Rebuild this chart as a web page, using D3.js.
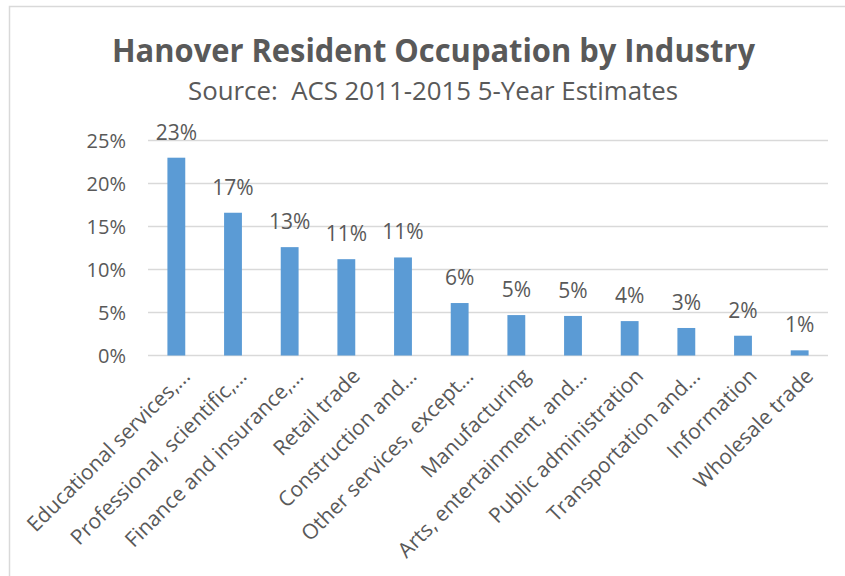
<!DOCTYPE html>
<html>
<head>
<meta charset="utf-8">
<script src="https://cdn.jsdelivr.net/npm/d3@7/dist/d3.min.js"></script>
<style>
  body { margin: 0; background: #fff; }
  svg text { font-family: "Open Sans", sans-serif; fill: #595959; }
</style>
</head>
<body>
<svg width="845" height="576"></svg>
<script>
// industries, in chart order
var categories = [
  "Educational services,...",
  "Professional, scientific,...",
  "Finance and insurance,...",
  "Retail trade",
  "Construction and...",
  "Other services, except...",
  "Manufacturing",
  "Arts, entertainment, and...",
  "Public administration",
  "Transportation and...",
  "Information",
  "Wholesale trade"
];
// share of employed residents (fraction)
var shares = [0.230, 0.166, 0.126, 0.112, 0.114, 0.061, 0.047, 0.046, 0.040, 0.032, 0.023, 0.006];
var yTicks = [0, 0.05, 0.10, 0.15, 0.20, 0.25];

var title = "Hanover Resident Occupation by Industry";
var subtitle = "Source:  ACS 2011-2015 5-Year Estimates";

var svg = d3.select("svg"),
    margin = {top: 140.5, right: 17, bottom: 220.5, left: 148},
    width = +svg.attr("width") - margin.left - margin.right,
    height = +svg.attr("height") - margin.top - margin.bottom;

// chart area border (Excel frame, runs off right/bottom)
svg.append("rect")
    .attr("x", 9.5).attr("y", 6.5)
    .attr("width", 900).attr("height", 700)
    .attr("fill", "none")
    .attr("stroke", "#d9d9d9")
    .attr("stroke-width", 1.5);

svg.append("text")
    .attr("x", 433.5).attr("y", 62)
    .attr("text-anchor", "middle")
    .attr("textLength", 643)
    .attr("lengthAdjust", "spacingAndGlyphs")
    .style("font-size", "33px")
    .style("font-weight", "bold")
    .text(title);

svg.append("text")
    .attr("x", 433).attr("y", 100)
    .attr("text-anchor", "middle")
    .attr("textLength", 490)
    .attr("lengthAdjust", "spacingAndGlyphs")
    .style("font-size", "25px")
    .style("white-space", "pre")
    .text(subtitle);

var g = svg.append("g")
    .attr("transform", "translate(" + margin.left + "," + margin.top + ")");

var x = d3.scaleBand()
    .domain(categories)
    .range([0, width])
    .paddingInner(0.685)
    .paddingOuter(0.3425);

var y = d3.scaleLinear()
    .domain([0, 0.25])
    .range([height, 0]);

var pct = d3.format(".0%");

// gridlines
g.append("g")
    .attr("class", "grid")
    .selectAll("line")
    .data(yTicks)
    .enter().append("line")
    .attr("x1", 0).attr("x2", width)
    .attr("y1", function(d) { return y(d); })
    .attr("y2", function(d) { return y(d); })
    .attr("stroke", "#d9d9d9")
    .attr("stroke-width", 1.3);

// y axis labels
var yAxis = g.append("g")
    .call(d3.axisLeft(y).tickValues(yTicks).tickFormat(pct).tickSize(0).tickPadding(22));
yAxis.select(".domain").remove();
yAxis.selectAll("text")
    .attr("dy", "0.35em")
    .style("font-size", "20px")
    .style("font-family", "Open Sans, sans-serif")
    .attr("fill", "#595959");

// bars
g.selectAll(".bar")
    .data(shares)
    .enter().append("rect")
    .attr("class", "bar")
    .attr("x", function(d, i) { return x(categories[i]); })
    .attr("width", x.bandwidth())
    .attr("y", function(d) { return y(d); })
    .attr("height", function(d) { return height - y(d); })
    .attr("fill", "#5b9bd5");

// value labels
g.selectAll(".val")
    .data(shares)
    .enter().append("text")
    .attr("class", "val")
    .attr("x", function(d, i) { return x(categories[i]) + x.bandwidth() / 2; })
    .attr("y", function(d) { return y(d) - 18; })
    .attr("text-anchor", "middle")
    .style("font-size", "21px")
    .text(function(d) { return pct(d); });

// category labels, rotated
var xAxis = g.append("g")
    .attr("transform", "translate(0," + height + ")")
    .call(d3.axisBottom(x).tickSize(0).tickPadding(0));
xAxis.select(".domain").remove();
xAxis.selectAll("text")
    .attr("text-anchor", "end")
    .attr("dy", null)
    .attr("y", 0)
    .attr("transform", "translate(15,22) rotate(-45)")
    .style("font-size", "21px")
    .style("font-family", "Open Sans, sans-serif")
    .attr("fill", "#595959");
</script>
</body>
</html>
